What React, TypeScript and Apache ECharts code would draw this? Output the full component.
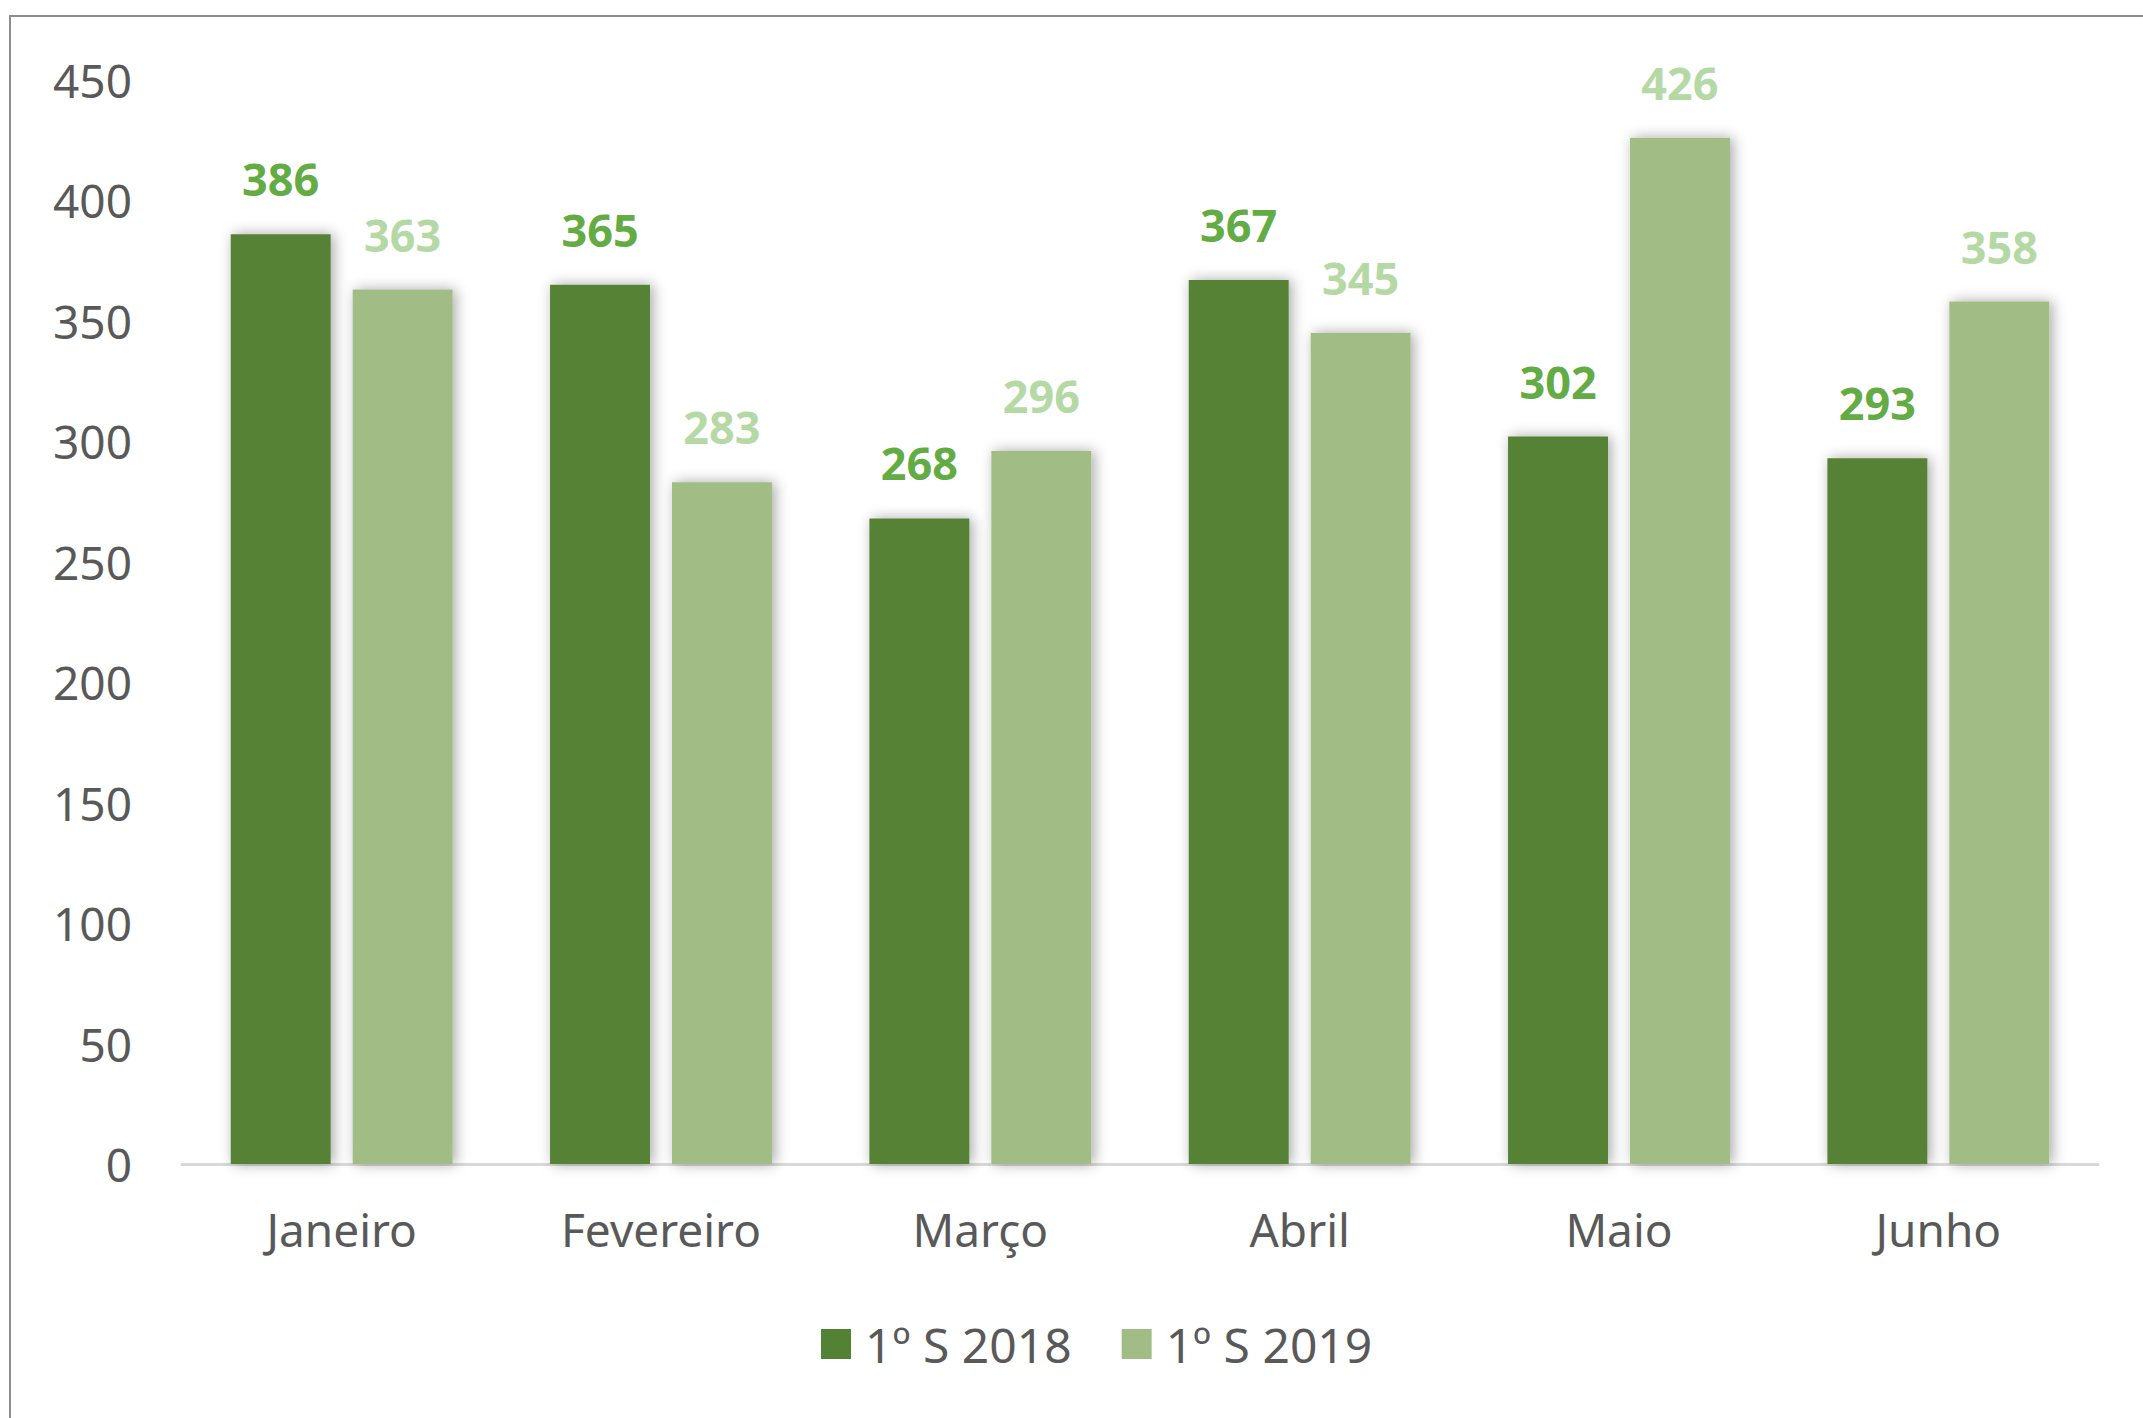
import React, { useEffect, useRef } from "react";
import * as echarts from "echarts";

const categories = ["Janeiro", "Fevereiro", "Março", "Abril", "Maio", "Junho"];
const seriesNames = ["1º S 2018", "1º S 2019"];
const values2018 = [386, 365, 268, 367, 302, 293];
const values2019 = [363, 283, 296, 345, 426, 358];

const FONT = "'Noto Sans', 'Open Sans', sans-serif";

export default function App() {
  const ref = useRef<HTMLDivElement>(null);
  useEffect(() => {
    document.body.style.margin = "0";
    const chart = echarts.init(ref.current!, undefined, { renderer: "svg" });
    const shadow = {
      shadowBlur: 14,
      shadowColor: "rgba(0,0,0,0.35)",
      shadowOffsetX: 3,
      shadowOffsetY: 0,
    };
    chart.setOption({
      animation: false,
      backgroundColor: "#ffffff",
      textStyle: { fontFamily: FONT },
      graphic: [
        {
          type: "rect",
          shape: { x: 10, y: 16, width: 2400, height: 1600 },
          style: { fill: "none", stroke: "#8c8c8c", lineWidth: 2 },
          silent: true,
          z: -10,
        },
      ],
      grid: { left: 182, right: 45, top: 80, bottom: 254, containLabel: false },
      legend: {
        left: 821,
        top: 1320,
        padding: 0,
        itemWidth: 30,
        itemHeight: 30,
        itemGap: 50,
        icon: "rect",
        textStyle: { fontSize: 48, color: "#595959", fontFamily: FONT, padding: [0, 0, 0, 9] },
        data: seriesNames,
      },
      xAxis: {
        type: "category",
        data: categories,
        axisLine: { show: true, lineStyle: { color: "#d9d9d9", width: 3 } },
        axisTick: { show: false },
        axisLabel: { fontSize: 46, color: "#595959", margin: 42, fontFamily: FONT },
      },
      yAxis: {
        type: "value",
        min: 0,
        max: 450,
        interval: 50,
        axisLine: { show: false },
        axisTick: { show: false },
        splitLine: { show: false },
        axisLabel: { fontSize: 46, color: "#595959", margin: 50, fontFamily: FONT },
      },
      series: [
        {
          name: seriesNames[0],
          type: "bar",
          data: values2018,
          barWidth: "31.3%",
          barGap: "22%",
          itemStyle: { color: "#548235", ...shadow },
          label: {
            show: true,
            position: "top",
            distance: 33,
            fontSize: 45,
            fontWeight: "bold",
            color: "#63AB45",
            fontFamily: FONT,
          },
        },
        {
          name: seriesNames[1],
          type: "bar",
          data: values2019,
          barWidth: "31.3%",
          barGap: "22%",
          itemStyle: { color: "#A2BC86", ...shadow },
          label: {
            show: true,
            position: "top",
            distance: 33,
            fontSize: 45,
            fontWeight: "bold",
            color: "#B5D9A5",
            fontFamily: FONT,
          },
        },
      ],
    });
    return () => chart.dispose();
  }, []);
  return (
    <div
      ref={ref}
      style={{ position: "absolute", left: 0, top: 0, width: 2143, height: 1418 }}
    />
  );
}
